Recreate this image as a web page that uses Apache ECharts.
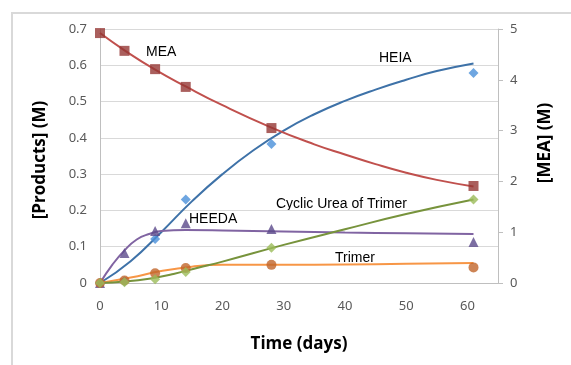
<!DOCTYPE html>
<html>
<head>
<meta charset="utf-8">
<script src="https://cdn.jsdelivr.net/npm/echarts@6/dist/echarts.min.js"></script>
<style>
  html, body { margin: 0; padding: 0; background: #fff; }
  #main { width: 571px; height: 365px; }
</style>
</head>
<body>
<div id="main"></div>
<script>
// measured points: [day, value]
var meaPts = [[0, 4.92], [4, 4.57], [9, 4.21], [14, 3.86], [28, 3.05], [61, 1.91]];
var heiaPts = [[0, 0], [4, 0.005], [9, 0.121], [14, 0.23], [28, 0.383], [61, 0.579]];
var heedaPts = [[0, 0], [4, 0.083], [9, 0.143], [14, 0.165], [28, 0.149], [61, 0.113]];
var trimerPts = [[0, 0], [4, 0.007], [9, 0.027], [14, 0.041], [28, 0.05], [61, 0.043]];
var cyclicPts = [[0, 0], [4, 0.002], [9, 0.01], [14, 0.03], [28, 0.097], [61, 0.23]];

// fitted curves
var meaFit = [[0, 4.92], [4, 4.58], [9, 4.2], [14, 3.87], [20, 3.5], [28, 3.06], [35, 2.73], [40, 2.53], [45, 2.34], [50, 2.17], [55, 2.03], [61, 1.9]];
var heiaFit = [[0, 0], [5, 0.06], [10, 0.14], [15, 0.225], [20, 0.3], [25, 0.365], [30, 0.42], [35, 0.465], [40, 0.502], [45, 0.533], [50, 0.56], [55, 0.584], [61, 0.605]];
var heedaFit = [[0, 0], [2, 0.05], [4, 0.09], [6, 0.12], [8, 0.135], [10, 0.143], [14, 0.146], [20, 0.145], [30, 0.142], [40, 0.139], [50, 0.137], [61, 0.135]];
var trimerFit = [[0, 0], [5, 0.015], [10, 0.033], [15, 0.045], [20, 0.05], [30, 0.05], [40, 0.051], [50, 0.053], [61, 0.055]];
var cyclicFit = [[0, 0], [4, 0.004], [8, 0.012], [12, 0.025], [16, 0.042], [20, 0.059], [30, 0.105], [40, 0.148], [50, 0.19], [61, 0.23]];

var tickFont = { color: '#595959', fontSize: 13, fontFamily: 'Noto Sans' };
var gray = '#BFBFBF';

function fit(data, color, yIdx) {
  return { type: 'line', data: data, yAxisIndex: yIdx, smooth: true, showSymbol: false,
    lineStyle: { color: color, width: 2 }, silent: true, z: 2 };
}
function dots(data, symbol, color, yIdx, size) {
  return { type: 'scatter', data: data, yAxisIndex: yIdx, symbol: symbol, symbolSize: size,
    itemStyle: { color: color }, z: 3 };
}

var chart = echarts.init(document.getElementById('main'));
chart.setOption({
  animation: false,
  grid: { left: 100, right: 73, top: 29, bottom: 82 },
  xAxis: {
    type: 'value', min: 0, max: 65, interval: 10,
    axisLine: { show: true, lineStyle: { color: gray } },
    axisTick: { show: false },
    splitLine: { show: false },
    axisLabel: Object.assign({ margin: 17, formatter: function (v) { return v % 10 === 0 ? String(v) : ''; } }, tickFont)
  },
  yAxis: [{
    type: 'value', min: 0, max: 0.7, interval: 0.1,
    axisLine: { show: true, lineStyle: { color: gray } },
    axisTick: { show: false },
    splitLine: { lineStyle: { color: '#D9D9D9' } },
    axisLabel: Object.assign({ margin: 13 }, tickFont)
  }, {
    type: 'value', min: 0, max: 5, interval: 1, position: 'right',
    axisLine: { show: true, lineStyle: { color: gray } },
    axisTick: { show: true, length: 5, lineStyle: { color: gray } },
    splitLine: { show: false },
    axisLabel: Object.assign({ margin: 12 }, tickFont)
  }],
  series: [
    fit(heiaFit, '#3E72A8', 0),
    fit(meaFit, '#C0504D', 1),
    fit(heedaFit, '#8064A2', 0),
    fit(trimerFit, '#F79646', 0),
    fit(cyclicFit, '#77933C', 0),
    dots(heiaPts, 'diamond', '#4A90D9', 0, 10),
    dots(meaPts, 'rect', '#953735', 1, 10),
    dots(heedaPts, 'triangle', '#5B4A8B', 0, 10),
    dots(trimerPts, 'circle', '#C0652A', 0, 10),
    dots(cyclicPts, 'diamond', '#9BBB59', 0, 10)
  ],
  graphic: [
    { type: 'rect', shape: { x: 12, y: 13, width: 700, height: 500 }, style: { fill: 'none', stroke: '#D9D9D9', lineWidth: 2 }, z: -1 },
    { type: 'text', x: 146, y: 52, style: { text: 'MEA', font: '14px "Liberation Sans"', fill: '#000', verticalAlign: 'middle' } },
    { type: 'text', x: 379, y: 58, style: { text: 'HEIA', font: '14px "Liberation Sans"', fill: '#000', verticalAlign: 'middle' } },
    { type: 'text', x: 189, y: 219, style: { text: 'HEEDA', font: '14px "Liberation Sans"', fill: '#000', verticalAlign: 'middle' } },
    { type: 'text', x: 276, y: 204, style: { text: 'Cyclic Urea of Trimer', font: '14px "Liberation Sans"', fill: '#000', verticalAlign: 'middle' } },
    { type: 'text', x: 335, y: 258, style: { text: 'Trimer', font: '14px "Liberation Sans"', fill: '#000', verticalAlign: 'middle' } },
    { type: 'text', x: 299, y: 344, style: { text: 'Time (days)', font: 'bold 17px "Open Sans"', fill: '#000', align: 'center', verticalAlign: 'middle' } },
    { type: 'text', x: 40, y: 160, rotation: Math.PI / 2, style: { text: '[Products] (M)', font: 'bold 17px "Open Sans"', fill: '#000', align: 'center', verticalAlign: 'middle' } },
    { type: 'text', x: 545, y: 143, rotation: Math.PI / 2, style: { text: '[MEA] (M)', font: 'bold 17px "Open Sans"', fill: '#000', align: 'center', verticalAlign: 'middle' } }
  ]
});
</script>
</body>
</html>
